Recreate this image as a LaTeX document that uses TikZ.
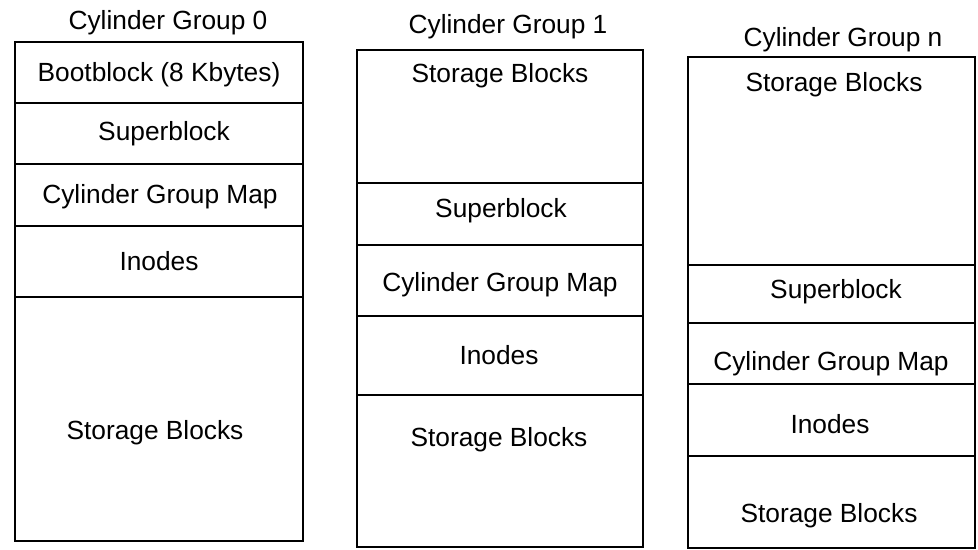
\documentclass[tikz,border=0pt]{standalone}
\usepackage{fontspec}
\setmainfont{Liberation Sans}

\begin{document}
\begin{tikzpicture}[x=0.025cm, y=-0.025cm, line width=1pt,
    field/.style={inner sep=0pt, font=\fontsize{18.7}{22}\selectfont}]
    \useasboundingbox (0,0) rectangle (978,550);
    % Cylinder Group 0
    \node[field] (title0) at (168,23) {Cylinder Group 0};
    \draw (15,42) rectangle (303,541);
    \foreach \y in {103,164,226,297} \draw (15,\y) -- (303,\y);
    \node[field] (boot0) at (159,75) {Bootblock (8 Kbytes)};
    \node[field] (super0) at (164,134) {Superblock};
    \node[field] (map0) at (160,197) {Cylinder Group Map};
    \node[field] (inodes0) at (159,261) {Inodes};
    \node[field] (store0) at (155,433) {Storage Blocks};
    % Cylinder Group 1
    \node[field] (title1) at (508,27) {Cylinder Group 1};
    \draw (357,50) rectangle (643,547);
    \foreach \y in {183,245,316,395} \draw (357,\y) -- (643,\y);
    \node[field] (storetop1) at (500,76) {Storage Blocks};
    \node[field] (super1) at (501,211) {Superblock};
    \node[field] (map1) at (500,285) {Cylinder Group Map};
    \node[field] (inodes1) at (499,355) {Inodes};
    \node[field] (store1) at (499,440) {Storage Blocks};
    % Cylinder Group n
    \node[field] (titlen) at (843,40) {Cylinder Group n};
    \draw (688,57) rectangle (975,548);
    \foreach \y in {265,323,384,456} \draw (688,\y) -- (975,\y);
    \node[field] (storetopn) at (834,85) {Storage Blocks};
    \node[field] (supern) at (836,292) {Superblock};
    \node[field] (mapn) at (831,364) {Cylinder Group Map};
    \node[field] (inodesn) at (830,424) {Inodes};
    \node[field] (storen) at (829,516) {Storage Blocks};
\end{tikzpicture}
\end{document}
